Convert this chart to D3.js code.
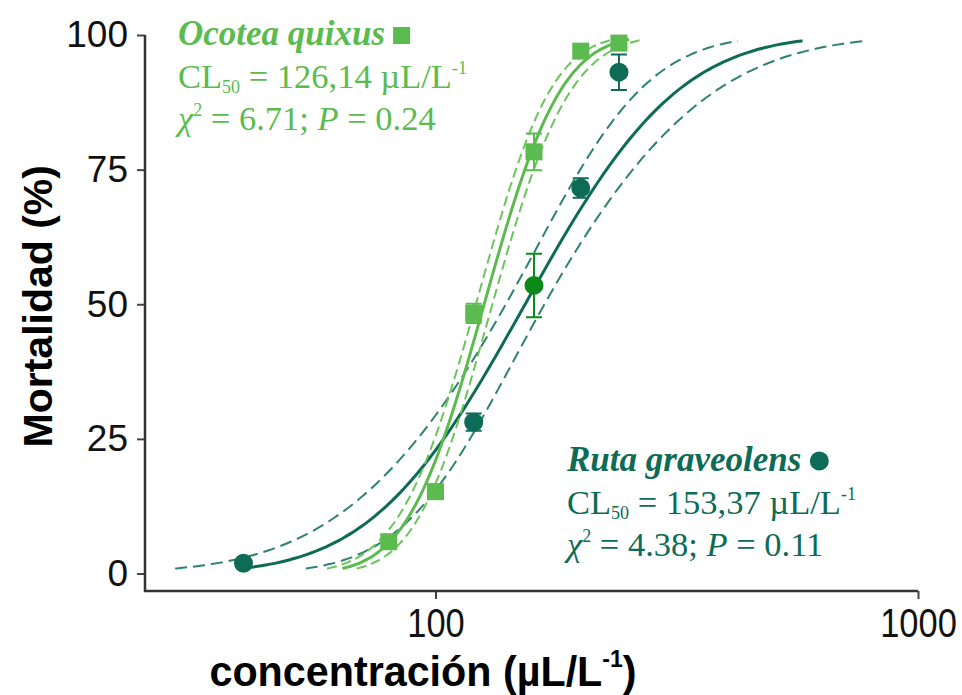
<!DOCTYPE html>
<html>
<head>
<meta charset="utf-8">
<script src="https://cdn.jsdelivr.net/npm/d3@7"></script>
<style>
  body { margin: 0; background: #fff; }
  svg { display: block; }
</style>
</head>
<body>
<div id="chart"></div>
<script>
(function () {
  /* ----------------------- Data ------------------------ */
  const concOcotea = [80, 100, 120, 160, 200, 240];
  const mortOcotea = [5.9, 15.2, 48.3, 78.3, 97.0, 98.5];
  const errOcotea = [0.8, 0.6, 1.8, 3.4, 0.8, 1.0];

  const concRuta = [40, 120, 160, 200, 240];
  const mortRuta = [1.9, 28.1, 53.5, 71.6, 93.1];
  const errRuta = [0.5, 1.6, 5.9, 1.8, 3.3];

  // probit fit (log10 dose): LC50, slope, confidence band terms
  const speciesNames = ["Ocotea quixus", "Ruta graveolens"];
  const lc50Vals = [126.14, 153.37];
  const slopeVals = [8.0, 4.0];
  const bandA = [0.00029, 0.0016];
  const bandC = [0.000117, 0.0030];
  const chiVals = [6.71, 4.38];
  const pVals = [0.24, 0.11];

  const yTicks = [0, 25, 50, 75, 100];
  const xTicks = [100, 1000];

  const colLight = "#5cbb4e";
  const colLightDash = "#6cc45c";
  const colDark = "#0d6b56";
  const colDarkDash = "#2e8270";
  const colMid = "#0b8a1a"; // highlighted Ruta point at 160

  /* ----------------------- Setup ------------------------ */
  const W = 962, H = 695;
  const svg = d3.select("#chart").append("svg")
    .attr("width", W).attr("height", H)
    .attr("viewBox", `0 0 ${W} ${H}`);

  const x = d3.scaleLog().domain([25, 1000]).range([145, 918]);
  const y = d3.scaleLinear().domain([0, 100]).range([573.5, 35]);
  const axisY = 591;
  const sans = "'Liberation Sans', Arial, sans-serif";

  /* ----------------------- Axes ------------------------ */
  const yAxisG = svg.append("g")
    .attr("transform", `translate(${x.range()[0]},0)`)
    .call(d3.axisLeft(y).tickValues(yTicks).tickSize(8).tickPadding(9));
  yAxisG.select(".domain").remove();
  yAxisG.selectAll(".tick line").attr("stroke", "#444").attr("stroke-width", 2);
  yAxisG.selectAll(".tick text")
    .style("font-family", sans)
    .style("font-size", "37px").attr("fill", "#111");

  const xAxisG = svg.append("g")
    .attr("transform", `translate(0,${axisY})`)
    .call(d3.axisBottom(x).tickValues(xTicks).tickFormat(d3.format("d")).tickSize(8).tickPadding(0));
  xAxisG.select(".domain").remove();
  xAxisG.selectAll(".tick line").attr("stroke", "#444").attr("stroke-width", 2);
  // condensed tick labels, as in the original
  xAxisG.selectAll(".tick text")
    .attr("y", 0).attr("dy", 0)
    .attr("transform", "translate(0,46) scale(0.84,1)")
    .style("font-family", sans)
    .style("font-size", "41px").attr("fill", "#111");

  // frame lines (L-shape)
  svg.append("path")
    .attr("d", `M${x.range()[0]},${y(100)}V${axisY}H${x.range()[1]}`)
    .attr("fill", "none").attr("stroke", "#333").attr("stroke-width", 2.5);

  // axis titles
  svg.append("text")
    .attr("transform", `translate(52,${(y(0) + y(100)) / 2 + 2}) rotate(-90)`)
    .attr("text-anchor", "middle")
    .style("font-family", sans)
    .style("font-size", "41px").style("font-weight", "bold")
    .text("Mortalidad (%)");

  const xTitle = svg.append("text")
    .attr("transform", "translate(423,686) scale(0.96,1)")
    .attr("text-anchor", "middle")
    .style("font-family", sans)
    .style("font-size", "43px").style("font-weight", "bold");
  xTitle.append("tspan").text("concentración (µL/L");
  xTitle.append("tspan").attr("dy", -19).style("font-size", "24px").text("-1");
  xTitle.append("tspan").attr("dy", 19).text(")");

  /* ----------------------- Fitted curves ------------------------ */
  const toPct = (z) => 100 * (0.5 * (1 + erf(z / Math.SQRT2)));
  function erf(v) {
    const s = Math.sign(v), a = Math.abs(v);
    const t = 1 / (1 + 0.3275911 * a);
    const r = 1 - (((((1.061405429 * t - 1.453152027) * t) + 1.421413741) * t - 0.284496736) * t + 0.254829592) * t * Math.exp(-a * a);
    return s * r;
  }

  const line = d3.line().x((d) => x(d[0])).y((d) => y(d[1])).curve(d3.curveBasis);

  function curvePoints(i, side, zMin, zMax) {
    const pts = [];
    const m = Math.log10(lc50Vals[i]);
    for (let z = zMin; z <= zMax + 1e-9; z += 0.05) {
      const w = side * Math.sqrt(bandA[i] + bandC[i] * z * z);
      const lx = m + z / slopeVals[i] + w;
      pts.push([Math.pow(10, lx), toPct(z)]);
    }
    return pts;
  }

  const fits = [
    { i: 1, col: colDark, dash: colDarkDash, zMin: -2.3, zMax: 2.33 },
    { i: 0, col: colLight, dash: colLightDash, zMin: -2.35, zMax: 2.4 }
  ];
  fits.forEach((f) => {
    [-1, 1].forEach((side) => {
      svg.append("path")
        .attr("d", line(curvePoints(f.i, side, -2.36, f.zMax)))
        .attr("fill", "none").attr("stroke", f.dash)
        .attr("stroke-width", 2).attr("stroke-dasharray", f.i === 1 ? "12,6" : "10,5");
    });
    svg.append("path")
      .attr("d", line(curvePoints(f.i, 0, f.zMin, f.zMax)))
      .attr("fill", "none").attr("stroke", f.col).attr("stroke-width", 3);
  });

  /* ----------------------- Points + error bars ------------------------ */
  function errorBars(conc, mort, err, colorFn) {
    const g = svg.append("g");
    conc.forEach((c, k) => {
      if (err[k] < 1) return;
      const cx = x(c), col = colorFn(k);
      const y1 = y(mort[k] + err[k]), y2 = y(mort[k] - err[k]);
      g.append("path")
        .attr("d", `M${cx},${y1}V${y2}M${cx - 8},${y1}H${cx + 8}M${cx - 8},${y2}H${cx + 8}`)
        .attr("fill", "none").attr("stroke", col).attr("stroke-width", 2);
    });
  }

  const rutaColor = (k) => (concRuta[k] === 160 ? colMid : colDark);
  errorBars(concOcotea, mortOcotea, errOcotea, () => colLight);
  errorBars(concRuta, mortRuta, errRuta, rutaColor);

  svg.selectAll(".sq").data(concOcotea).enter().append("rect")
    .attr("class", "sq")
    .attr("x", (d) => x(d) - 8.5)
    .attr("y", (d, k) => y(mortOcotea[k]) - 8.5)
    .attr("width", 17).attr("height", 17)
    .attr("fill", colLight);

  svg.selectAll(".dot").data(concRuta).enter().append("circle")
    .attr("class", "dot")
    .attr("cx", (d) => x(d))
    .attr("cy", (d, k) => y(mortRuta[k]))
    .attr("r", 9.5)
    .attr("fill", (d, k) => rutaColor(k));

  /* ----------------------- Legend texts ------------------------ */
  const fmtComma = (v) => d3.format(".2f")(v).replace(".", ",");
  const serif = "'Liberation Serif', 'Times New Roman', serif";

  function legendBlock(i, lx, ly, color, marker) {
    const g = svg.append("g").style("font-family", serif).attr("fill", color);
    const t1 = g.append("text").attr("x", lx).attr("y", ly)
      .style("font-size", "35px").style("font-weight", "bold").style("font-style", "italic")
      .text(speciesNames[i]);
    const tw = t1.node().getComputedTextLength();
    if (marker === "square") {
      g.append("rect").attr("x", lx + tw + 8).attr("y", ly - 18).attr("width", 17).attr("height", 17).attr("fill", color);
    } else {
      g.append("circle").attr("cx", lx + tw + 18).attr("cy", ly - 10).attr("r", 9.5).attr("fill", color);
    }

    const t2 = g.append("text").attr("x", lx).attr("y", ly + 43).style("font-size", "34.5px");
    t2.append("tspan").text("CL");
    t2.append("tspan").attr("dy", 5).style("font-size", "18px").text("50");
    t2.append("tspan").attr("dy", -5).text(` = ${fmtComma(lc50Vals[i])} µL/L`);
    t2.append("tspan").attr("dy", -14).style("font-size", "18px").text("-1");

    const t3 = g.append("text").attr("x", lx).attr("y", ly + 85).style("font-size", "34.5px");
    t3.append("tspan").style("font-style", "italic").text("χ");
    t3.append("tspan").attr("dy", -14).style("font-size", "18px").text("2");
    t3.append("tspan").attr("dy", 14).text(` = ${chiVals[i].toFixed(2)}; `);
    t3.append("tspan").style("font-style", "italic").text("P");
    t3.append("tspan").text(` = ${pVals[i].toFixed(2)}`);
  }

  legendBlock(0, 178, 45, colLight, "square");
  legendBlock(1, 567, 471, colDark, "circle");
})();
</script>
</body>
</html>
